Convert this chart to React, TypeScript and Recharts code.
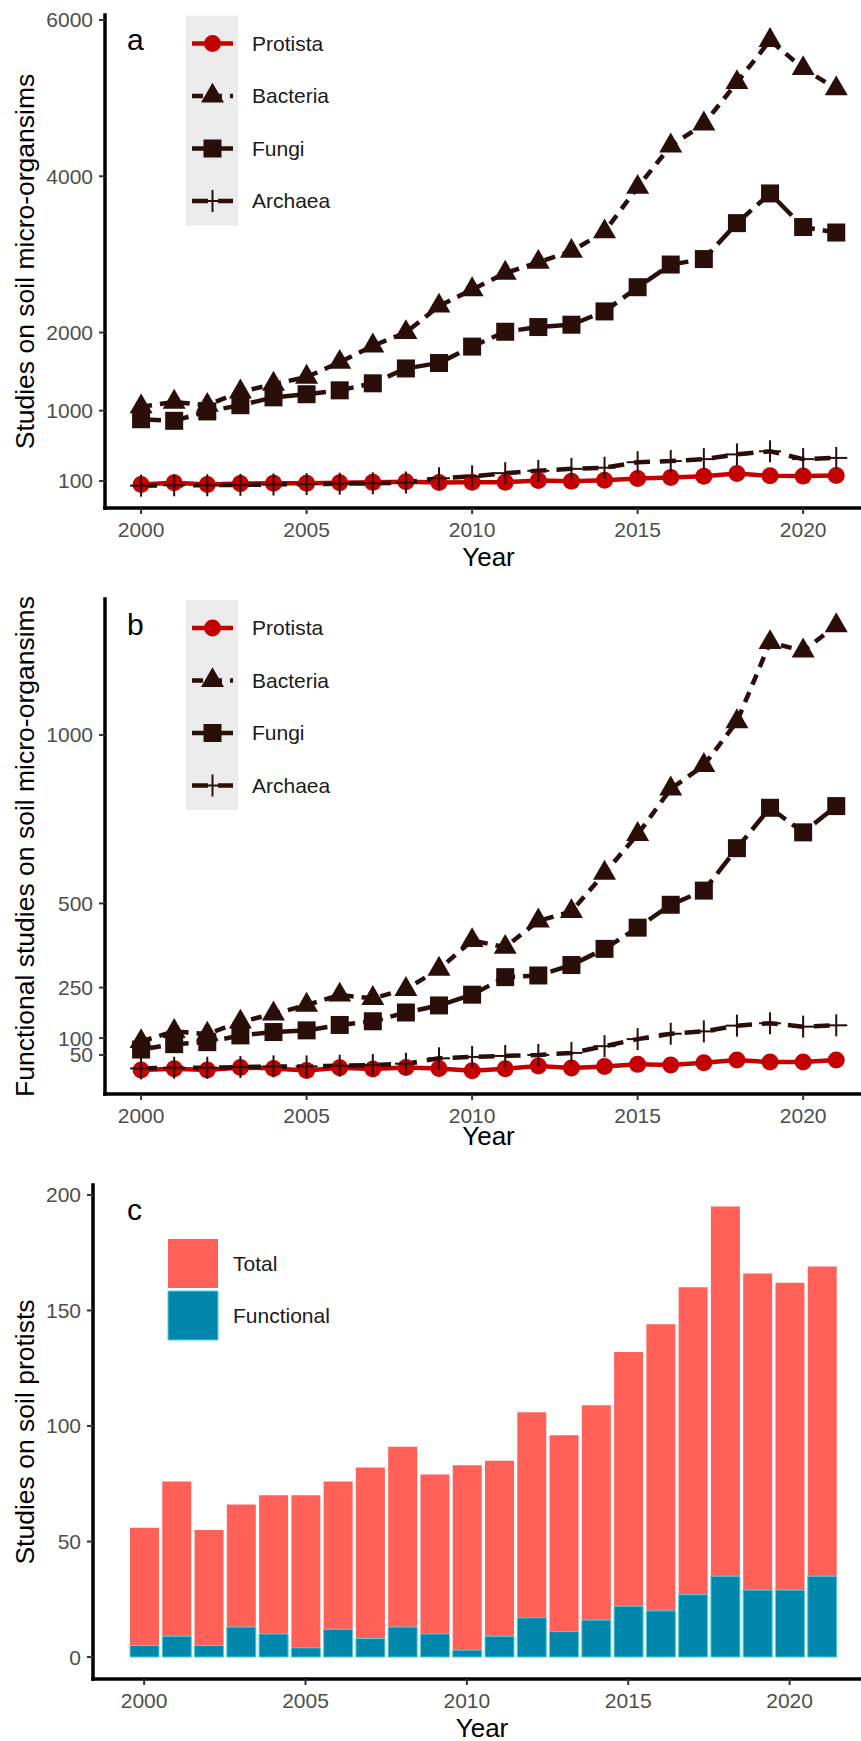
import { LineChart, Line, XAxis, YAxis, BarChart, Bar } from 'recharts';

const FONT = "'Liberation Sans', Arial, Helvetica, sans-serif";
const DARK = '#2a0e0a';
const RED = '#c40000';

const years = [2000, 2001, 2002, 2003, 2004, 2005, 2006, 2007, 2008, 2009, 2010, 2011, 2012, 2013, 2014, 2015, 2016, 2017, 2018, 2019, 2020, 2021];

// panel a: all studies on soil micro-organisms
const protistaTotal = [56, 76, 55, 66, 70, 70, 76, 82, 91, 79, 83, 85, 106, 96, 109, 132, 144, 160, 195, 166, 162, 169];
const bacteriaTotal = [1050, 1110, 1070, 1240, 1340, 1430, 1620, 1830, 2000, 2340, 2550, 2760, 2900, 3040, 3290, 3860, 4390, 4670, 5200, 5740, 5380, 5120];
const fungiTotal = [890, 870, 990, 1070, 1170, 1210, 1260, 1350, 1540, 1610, 1820, 2010, 2070, 2100, 2270, 2580, 2870, 2940, 3400, 3780, 3350, 3280];
const archaeaTotal = [40, 45, 45, 50, 55, 60, 65, 70, 80, 135, 160, 200, 230, 255, 270, 340, 355, 380, 440, 480, 380, 395];

// panel b: functional studies
const protistaFunctional = [5, 9, 5, 13, 10, 4, 12, 8, 13, 10, 3, 9, 17, 11, 16, 22, 20, 27, 35, 29, 29, 35];
const bacteriaFunctional = [90, 120, 112, 148, 172, 198, 228, 218, 245, 305, 390, 370, 448, 476, 590, 705, 840, 910, 1040, 1275, 1250, 1325];
const fungiFunctional = [66, 82, 88, 108, 118, 123, 139, 150, 176, 197, 229, 281, 286, 317, 365, 428, 496, 538, 664, 784, 711, 789];
const archaeaFunctional = [10, 12, 12, 14, 16, 16, 18, 20, 24, 40, 44, 47, 50, 56, 76, 97, 113, 120, 137, 144, 134, 138];

const yearTicks = [2000, 2005, 2010, 2015, 2020];
const ticksA = [100, 1000, 2000, 4000, 6000];
const ticksB = [50, 100, 250, 500, 1000];
const ticksC = [0, 50, 100, 150, 200];

const series = [
  { key: 'protista', name: 'Protista', color: RED, dash: undefined, shape: 'circle' },
  { key: 'bacteria', name: 'Bacteria', color: DARK, dash: '11 8', shape: 'triangle' },
  { key: 'fungi', name: 'Fungi', color: DARK, dash: '20 8', shape: 'square' },
  { key: 'archaea', name: 'Archaea', color: DARK, dash: '16 10', shape: 'plus' },
];

const dataA = years.map((year, i) => ({
  year,
  protista: protistaTotal[i],
  bacteria: bacteriaTotal[i],
  fungi: fungiTotal[i],
  archaea: archaeaTotal[i],
}));

const dataB = years.map((year, i) => ({
  year,
  protista: protistaFunctional[i],
  bacteria: bacteriaFunctional[i],
  fungi: fungiFunctional[i],
  archaea: archaeaFunctional[i],
}));

const dataC = years.map((year, i) => ({
  year,
  total: protistaTotal[i],
  functional: protistaFunctional[i],
}));

const tickStyle = { fill: '#4d4d4d', fontSize: 21, fontFamily: FONT };
const axisLineStyle = { stroke: '#000', strokeWidth: 3.5, strokeLinecap: 'square' as const };
const tickLineStyle = { stroke: '#333', strokeWidth: 2 };

function Marker({ shape, cx, cy, color }: { shape: string; cx: number; cy: number; color: string }) {
  if (cx == null || cy == null) return null;
  switch (shape) {
    case 'circle':
      return <circle cx={cx} cy={cy} r={8.5} fill={color} />;
    case 'triangle':
      return <polygon points={`${cx},${cy - 13.3} ${cx + 11.5},${cy + 6.6} ${cx - 11.5},${cy + 6.6}`} fill={color} />;
    case 'square':
      return <rect x={cx - 9} y={cy - 9} width={18} height={18} fill={color} />;
    default:
      return (
        <g stroke={color} strokeWidth={2}>
          <line x1={cx - 11} x2={cx + 11} y1={cy} y2={cy} />
          <line x1={cx} x2={cx} y1={cy - 11} y2={cy + 11} />
        </g>
      );
  }
}

function LinePanel({ data, top, marginTop, xAxisHeight, domain, ticks, title, yearOffset }: any) {
  return (
    <div style={{ position: 'absolute', left: 0, top }}>
      <LineChart width={880} height={580} data={data} margin={{ top: marginTop, right: 8, bottom: 0, left: 0 }}>
        <XAxis
          dataKey="year"
          type="number"
          domain={[1998.91, 2022.08]}
          allowDataOverflow
          ticks={yearTicks}
          interval={0}
          height={xAxisHeight}
          tick={tickStyle}
          tickSize={6}
          tickMargin={8}
          axisLine={axisLineStyle}
          tickLine={tickLineStyle}
          label={{ value: 'Year', position: 'insideBottom', offset: yearOffset, fill: '#000', fontSize: 26, fontFamily: FONT }}
        />
        <YAxis
          type="number"
          domain={domain}
          allowDataOverflow
          ticks={ticks}
          interval={0}
          width={105}
          tick={tickStyle}
          tickSize={6}
          tickMargin={6}
          axisLine={axisLineStyle}
          tickLine={tickLineStyle}
          label={{ value: title, angle: -90, position: 'insideLeft', offset: 25, fill: '#000', fontSize: 26.5, fontFamily: FONT, style: { textAnchor: 'middle' } }}
        />
        {series.map((s) => (
          <Line
            key={s.key + '-line'}
            dataKey={s.key}
            stroke={s.color}
            strokeWidth={4.5}
            strokeDasharray={s.dash}
            strokeLinejoin="round"
            dot={false}
            activeDot={false}
            isAnimationActive={false}
          />
        ))}
        {series.map((s) => (
          <Line
            key={s.key + '-pts'}
            dataKey={s.key}
            stroke="none"
            dot={(p: any) => <Marker key={`${s.key}-${p.index}`} shape={s.shape} cx={p.cx} cy={p.cy} color={s.color} />}
            activeDot={false}
            isAnimationActive={false}
          />
        ))}
      </LineChart>
    </div>
  );
}

function LineLegend({ top }: { top: number }) {
  return (
    <g>
      <rect x={186} y={top} width={52} height={210} fill="#ebebeb" />
      {series.map((s, i) => {
        const cy = top + 28 + i * 52.5;
        return (
          <g key={s.key}>
            <line x1={192} x2={233} y1={cy} y2={cy} stroke={s.color} strokeWidth={4.5} strokeDasharray={s.dash} />
            <Marker shape={s.shape} cx={212.5} cy={cy} color={s.color} />
            <text x={252} y={cy} dy="0.35em" fontSize={21} fontFamily={FONT} fill="#1a1a1a">
              {s.name}
            </text>
          </g>
        );
      })}
    </g>
  );
}

export default function App() {
  return (
    <div style={{ position: 'absolute', left: 0, top: 0, width: 861, height: 1741, overflow: 'hidden', background: '#fff' }}>
      <LinePanel
        data={dataA}
        top={0}
        marginTop={15}
        xAxisHeight={72}
        domain={[-246, 6064]}
        ticks={ticksA}
        title="Studies on soil micro-organsims"
        yearOffset={14}
      />
      <LinePanel
        data={dataB}
        top={580}
        marginTop={19}
        xAxisHeight={66}
        domain={[-66, 1404]}
        ticks={ticksB}
        title="Functional studies on soil micro-organsims"
        yearOffset={15}
      />
      <div style={{ position: 'absolute', left: 0, top: 1160 }}>
        <BarChart width={880} height={581} data={dataC} margin={{ top: 25, right: 9, bottom: 0, left: 0 }} barSize={29} barGap={-29}>
          <XAxis
            dataKey="year"
            type="category"
            ticks={yearTicks}
            interval={0}
            padding={{ left: 35, right: 33 }}
            height={62}
            tick={tickStyle}
            tickSize={6}
            tickMargin={8}
            axisLine={axisLineStyle}
            tickLine={tickLineStyle}
            label={{ value: 'Year', position: 'insideBottom', offset: 4.5, fill: '#000', fontSize: 26, fontFamily: FONT }}
          />
          <YAxis
            type="number"
            domain={[-9.5, 204.3]}
            allowDataOverflow
            ticks={ticksC}
            interval={0}
            width={93}
            tick={tickStyle}
            tickSize={6}
            tickMargin={6}
            axisLine={axisLineStyle}
            tickLine={tickLineStyle}
            label={{ value: 'Studies on soil protists', angle: -90, position: 'insideLeft', offset: 25, fill: '#000', fontSize: 26.5, fontFamily: FONT, style: { textAnchor: 'middle' } }}
          />
          <Bar dataKey="total" fill="#ff6158" isAnimationActive={false} />
          <Bar dataKey="functional" fill="#0087ab" stroke="#4fd3e3" strokeWidth={1} isAnimationActive={false} />
        </BarChart>
      </div>
      <svg width={861} height={1741} style={{ position: 'absolute', left: 0, top: 0, pointerEvents: 'none' }}>
        <text x={127} y={50} fontSize={30} fontFamily={FONT} fill="#000">a</text>
        <text x={127} y={635} fontSize={30} fontFamily={FONT} fill="#000">b</text>
        <text x={127} y={1220} fontSize={30} fontFamily={FONT} fill="#000">c</text>
        <LineLegend top={15.5} />
        <LineLegend top={600} />
        <rect x={168} y={1239} width={50} height={49} fill="#ff6158" />
        <rect x={168} y={1291} width={50} height={49} fill="#0087ab" stroke="#4fd3e3" strokeWidth={1} />
        <text x={233} y={1264} dy="0.35em" fontSize={21} fontFamily={FONT} fill="#1a1a1a">Total</text>
        <text x={233} y={1316} dy="0.35em" fontSize={21} fontFamily={FONT} fill="#1a1a1a">Functional</text>
      </svg>
    </div>
  );
}
